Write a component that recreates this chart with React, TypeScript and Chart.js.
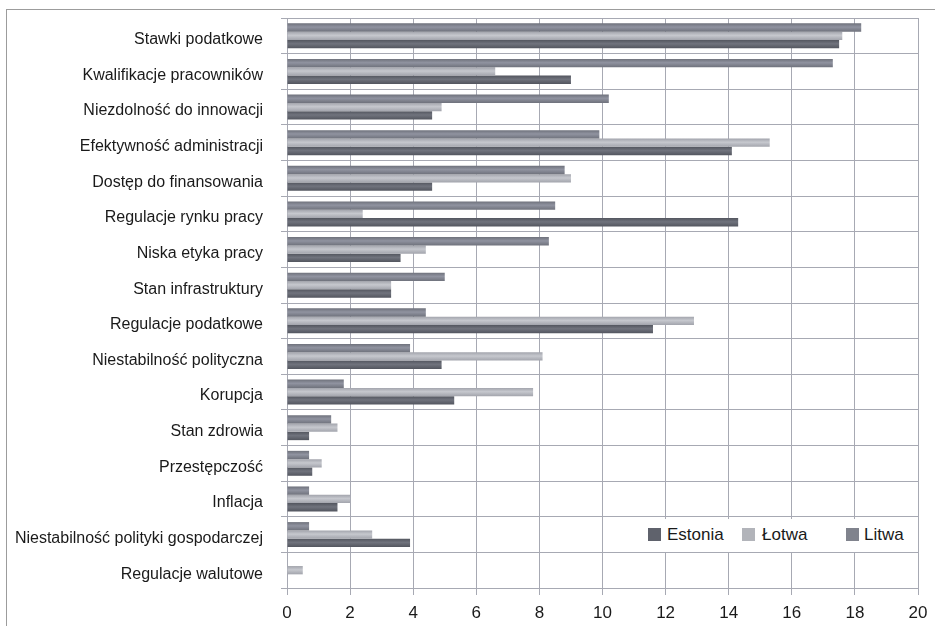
import React, { useEffect, useRef } from 'react';
import { Chart, registerables } from 'chart.js';

Chart.register(...registerables);

const categories = [
    'Stawki podatkowe',
    'Kwalifikacje pracowników',
    'Niezdolność do innowacji',
    'Efektywność administracji',
    'Dostęp do finansowania',
    'Regulacje rynku pracy',
    'Niska etyka pracy',
    'Stan infrastruktury',
    'Regulacje podatkowe',
    'Niestabilność polityczna',
    'Korupcja',
    'Stan zdrowia',
    'Przestępczość',
    'Inflacja',
    'Niestabilność polityki gospodarczej',
    'Regulacje walutowe',
];

// values
const litwa = [18.2, 17.3, 10.2, 9.9, 8.8, 8.5, 8.3, 5.0, 4.4, 3.9, 1.8, 1.4, 0.7, 0.7, 0.7, 0];
const lotwa = [17.6, 6.6, 4.9, 15.3, 9.0, 2.4, 4.4, 3.3, 12.9, 8.1, 7.8, 1.6, 1.1, 2.0, 2.7, 0.5];
const estonia = [17.5, 9.0, 4.6, 14.1, 4.6, 14.3, 3.6, 3.3, 11.6, 4.9, 5.3, 0.7, 0.8, 1.6, 3.9, 0];

const xTicks = [0, 2, 4, 6, 8, 10, 12, 14, 16, 18, 20];

const FONT = "'Liberation Sans', Arial, sans-serif";
const GRID = '#a7a9b3';
const CAT_PCT = 0.7;

// light stripe in the middle of each bar, like the original
const barFill = (edge: string, mid: string, slot: number) => (ctx: any) => {
    const chart = ctx.chart;
    const y = chart.scales?.y;
    if (!y || ctx.type !== 'data') return mid;
    const band = (y.bottom - y.top) / categories.length;
    const thick = (band * CAT_PCT) / 3;
    const center = y.getPixelForValue(ctx.dataIndex);
    const top = center - (band * CAT_PCT) / 2 + slot * thick;
    if (!isFinite(top)) return mid;
    const g = chart.ctx.createLinearGradient(0, top, 0, top + thick);
    g.addColorStop(0, edge);
    g.addColorStop(0.45, mid);
    g.addColorStop(1, edge);
    return g;
};

const legendItems = [
    { label: 'Estonia', color: '#5f626c', box: 648, text: 667 },
    { label: 'Łotwa', color: '#b2b4ba', box: 742, text: 762 },
    { label: 'Litwa', color: '#80838d', box: 846, text: 864 },
];

const App: React.FC = () => {
    const chartRef = useRef<HTMLCanvasElement>(null);
    const chartInstance = useRef<Chart | null>(null);

    useEffect(() => {
        document.body.style.margin = '0';
        if (!chartRef.current) return;
        if (chartInstance.current) chartInstance.current.destroy();

        chartInstance.current = new Chart(chartRef.current, {
            type: 'bar',
            data: {
                labels: categories,
                datasets: [
                    { label: 'Litwa', data: litwa, backgroundColor: barFill('#6f727c', '#9093a0', 0) },
                    { label: 'Łotwa', data: lotwa, backgroundColor: barFill('#a2a4ac', '#c6c8ce', 1) },
                    { label: 'Estonia', data: estonia, backgroundColor: barFill('#53565f', '#70737d', 2) },
                ],
            },
            options: {
                indexAxis: 'y',
                responsive: true,
                maintainAspectRatio: false,
                animation: false,
                layout: { padding: { top: 18, right: 17, left: 0, bottom: 0 } },
                datasets: {
                    bar: { categoryPercentage: CAT_PCT, barPercentage: 1, borderWidth: 0 },
                },
                plugins: {
                    legend: { display: false },
                    tooltip: { enabled: false },
                },
                scales: {
                    x: {
                        min: 0,
                        max: 20,
                        afterFit: (s: any) => { s.height = 38; s.paddingLeft = 0; s.paddingRight = 0; },
                        afterBuildTicks: (s: any) => { s.ticks = xTicks.map(v => ({ value: v })); },
                        grid: { color: GRID, tickColor: GRID, tickLength: 7, lineWidth: 1 },
                        border: { color: GRID },
                        ticks: {
                            color: '#1a1a1a',
                            font: { family: FONT, size: 17 },
                            padding: 8,
                            maxRotation: 0,
                        },
                    },
                    y: {
                        afterFit: (s: any) => { s.width = 287; s.paddingTop = 0; s.paddingBottom = 0; },
                        grid: { color: GRID, tickColor: GRID, tickLength: 6, offset: true },
                        border: { color: GRID },
                        ticks: {
                            color: '#1a1a1a',
                            font: { family: FONT, size: 16 },
                            padding: 18,
                            labelOffset: 4,
                            autoSkip: false,
                        },
                    },
                },
            },
        });

        return () => {
            if (chartInstance.current) {
                chartInstance.current.destroy();
                chartInstance.current = null;
            }
        };
    }, []);

    return (
        <div style={{ position: 'relative', width: 935, height: 626, background: '#fff', overflow: 'hidden' }}>
            <div style={{ position: 'absolute', left: 6, top: 9, right: -10, bottom: -10, borderTop: '1px solid #9c9c9c', borderLeft: '1px solid #9c9c9c' }}></div>
            <div style={{ position: 'absolute', left: 0, top: 0, width: 935, height: 626 }}>
                <canvas ref={chartRef}></canvas>
            </div>
            <div style={{ position: 'absolute', left: 644, top: 519, width: 268, height: 33, background: '#fff' }}>
                {legendItems.map(item => (
                    <React.Fragment key={item.label}>
                        <span style={{ position: 'absolute', left: item.box - 644, top: 9, width: 13, height: 13, background: item.color }}></span>
                        <span style={{ position: 'absolute', left: item.text - 644, top: 5, fontFamily: FONT, fontSize: 17, lineHeight: '21px', color: '#1a1a1a' }}>{item.label}</span>
                    </React.Fragment>
                ))}
            </div>
        </div>
    );
};

export default App;
